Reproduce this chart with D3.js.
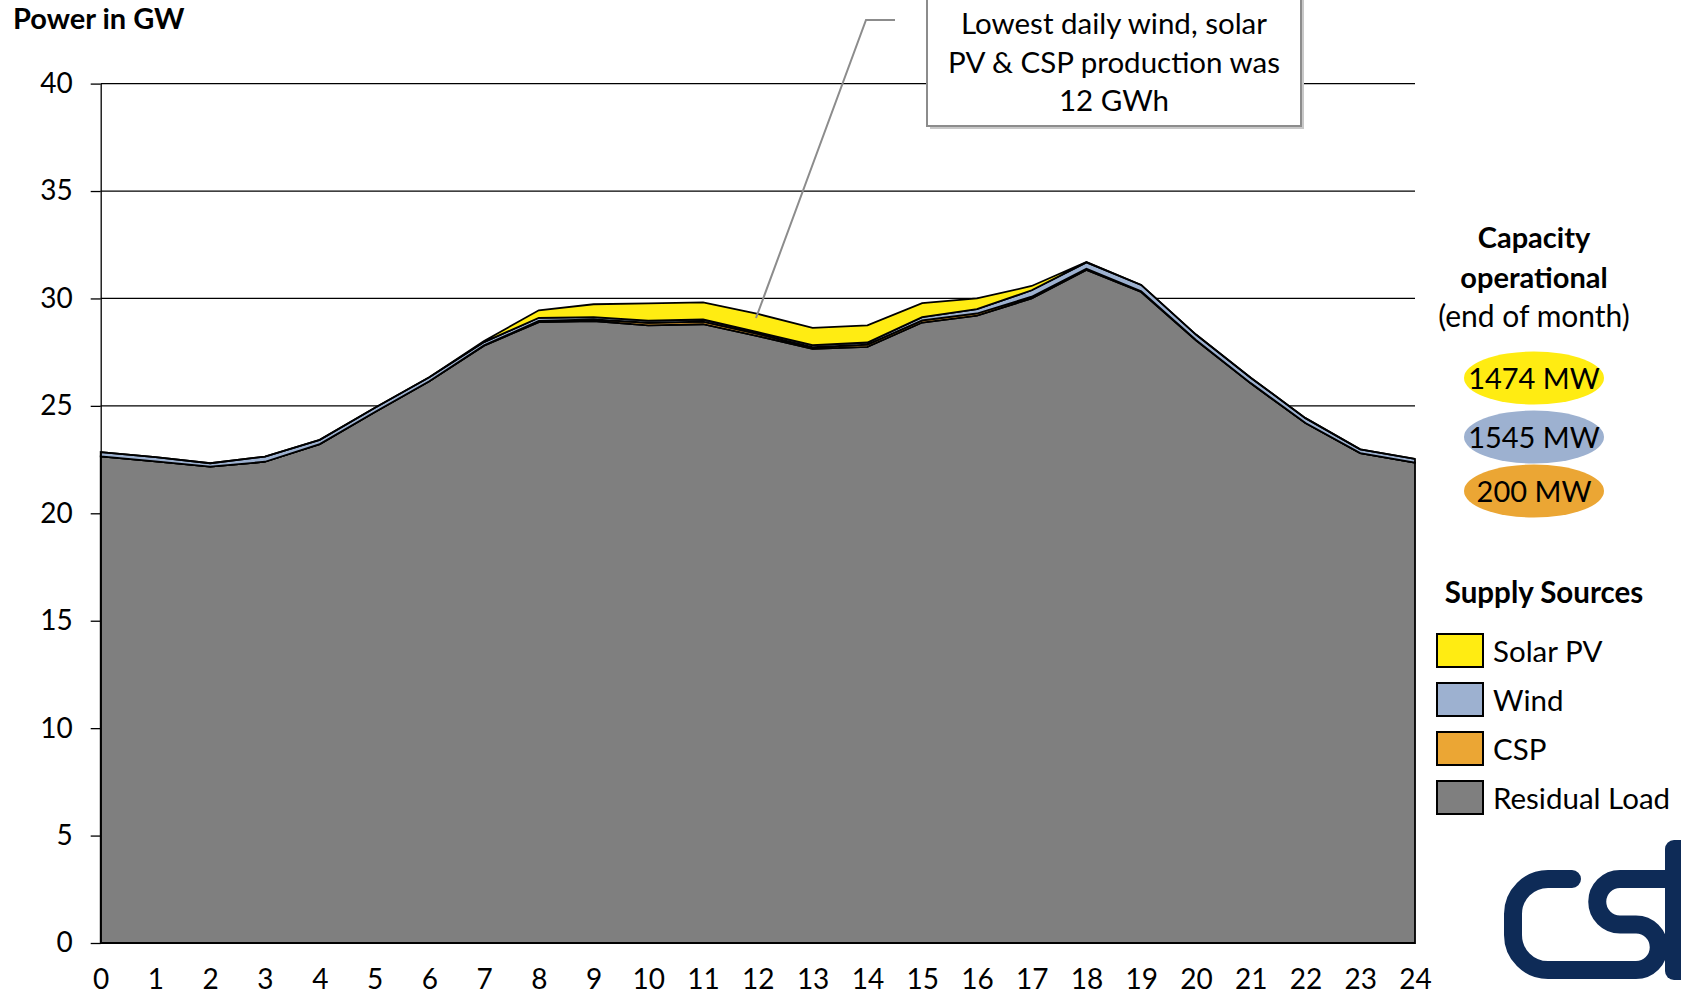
<!DOCTYPE html>
<html>
<head>
<meta charset="utf-8">
<script src="https://cdn.jsdelivr.net/npm/d3@7"></script>
<style>
  body { margin: 0; background: #fff; }
  text { font-family: Lato, 'Open Sans', sans-serif; fill: #000; }
</style>
</head>
<body>
<div id="vis"></div>
<script>
// hours of the day
const hours = d3.range(0, 25);
const yTicks = [0, 5, 10, 15, 20, 25, 30, 35, 40];

// stacked series in GW (bottom to top)
const residualLoad = [22.65, 22.42, 22.17, 22.4, 23.22, 24.7, 26.15, 27.8, 28.9, 28.95, 28.75, 28.8,
  28.25, 27.65, 27.75, 28.88, 29.2, 30.0, 31.33, 30.3, 28.05, 26.05, 24.2, 22.8, 22.36];
const csp = [0, 0, 0, 0, 0, 0, 0, 0.02, 0.05, 0.08, 0.12, 0.12,
  0.1, 0.08, 0.1, 0.1, 0.1, 0.08, 0.05, 0.03, 0.02, 0.01, 0, 0, 0];
const wind = [0.2, 0.19, 0.16, 0.24, 0.2, 0.2, 0.18, 0.15, 0.15, 0.1, 0.1, 0.1,
  0.08, 0.1, 0.1, 0.15, 0.2, 0.3, 0.3, 0.3, 0.25, 0.25, 0.23, 0.18, 0.17];
const solarPV = [0, 0, 0, 0, 0, 0, 0, 0.05, 0.35, 0.6, 0.8, 0.8,
  0.85, 0.8, 0.8, 0.65, 0.5, 0.2, 0.02, 0, 0, 0, 0, 0, 0];

const seriesKeys = ['residual', 'csp', 'wind', 'solar'];
const legendNames = ['Solar PV', 'Wind', 'CSP', 'Residual Load'];
const capacityLabels = ['1474 MW', '1545 MW', '200 MW'];
const colors = {solar: '#ffec12', wind: '#9db1d0', csp: '#eba634', residual: '#7f7f7f'};

const width = 1681;
const height = 994;
const plot = {left: 100.7, right: 1415, top: 83.6, bottom: 943};

const svg = d3.select('#vis')
  .append('svg')
  .attr('width', width)
  .attr('height', height);

const x = d3.scaleLinear().domain([0, 24]).range([plot.left, plot.right]);
const y = d3.scaleLinear().domain([0, 40]).range([plot.bottom, plot.top]);

// gridlines
svg.append('g')
  .selectAll('line')
  .data(yTicks.filter((d) => d > 0))
  .enter()
  .append('line')
  .attr('x1', plot.left)
  .attr('x2', plot.right)
  .attr('y1', (d) => y(d))
  .attr('y2', (d) => y(d))
  .attr('stroke', '#000')
  .attr('stroke-width', 1.3);

// stacked areas
const rows = hours.map((h, i) => ({
  hour: h, residual: residualLoad[i], csp: csp[i], wind: wind[i], solar: solarPV[i],
}));
const stacked = d3.stack().keys(seriesKeys)(rows);
const area = d3.area()
  .x((d) => x(d.data.hour))
  .y0((d) => y(d[0]))
  .y1((d) => y(d[1]));

svg.append('g')
  .selectAll('path')
  .data(stacked)
  .enter()
  .append('path')
  .attr('d', area)
  .attr('fill', (d) => colors[d.key])
  .attr('stroke', '#000')
  .attr('stroke-width', 1.8)
  .attr('stroke-linejoin', 'miter');

// Y axis
const yAxis = svg.append('g')
  .attr('transform', 'translate(' + plot.left + ',0)')
  .call(d3.axisLeft(y).tickValues(yTicks).tickSize(10).tickSizeOuter(0).tickPadding(18));
yAxis.select('.domain').attr('stroke', '#000').attr('stroke-width', 1.3);
yAxis.selectAll('.tick line').attr('stroke', '#000').attr('stroke-width', 1.3);
yAxis.selectAll('text').style('font-size', '28px').attr('fill', '#000');

// X axis, labels only
const xAxis = svg.append('g')
  .attr('transform', 'translate(0,' + plot.bottom + ')')
  .call(d3.axisBottom(x).tickValues(hours).tickSize(0).tickPadding(26));
xAxis.select('.domain').remove();
xAxis.selectAll('text').style('font-size', '28px').attr('fill', '#000');

// axis title
svg.append('text')
  .attr('x', 13)
  .attr('y', 29)
  .style('font-size', '29px')
  .style('font-weight', 'bold')
  .text('Power in GW');

// annotation leader line and box
svg.append('polyline')
  .attr('points', '895,20 866,20 756,318')
  .attr('fill', 'none')
  .attr('stroke', '#8c8c8c')
  .attr('stroke-width', 2);
svg.append('rect')
  .attr('x', 930)
  .attr('y', -10)
  .attr('width', 374)
  .attr('height', 139)
  .attr('fill', '#c8c8c8');
svg.append('rect')
  .attr('x', 927)
  .attr('y', -10)
  .attr('width', 374)
  .attr('height', 136)
  .attr('fill', '#fff')
  .attr('stroke', '#8c8c8c')
  .attr('stroke-width', 2);
svg.append('text')
  .attr('text-anchor', 'middle')
  .style('font-size', '29.5px')
  .selectAll('tspan')
  .data(['Lowest daily wind, solar', 'PV & CSP production was', '12 GWh'])
  .enter()
  .append('tspan')
  .attr('x', 1114)
  .attr('y', (d, i) => 34 + i * 38.5)
  .text((d) => d);

// capacity block
svg.append('text')
  .attr('text-anchor', 'middle')
  .selectAll('tspan')
  .data([['Capacity', 'bold'], ['operational', 'bold'], ['(end of month)', 'normal']])
  .enter()
  .append('tspan')
  .attr('x', 1534)
  .attr('y', (d, i) => 248 + i * 39.5)
  .style('font-weight', (d) => d[1])
  .style('font-size', (d) => d[1] === 'bold' ? '29px' : '30px')
  .text((d) => d[0]);

const capColors = [colors.solar, colors.wind, colors.csp];
const capY = [378, 437, 491];
const caps = svg.append('g')
  .selectAll('g')
  .data(capacityLabels)
  .enter()
  .append('g');
caps.append('ellipse')
  .attr('cx', 1534)
  .attr('cy', (d, i) => capY[i])
  .attr('rx', 70)
  .attr('ry', 26.5)
  .attr('fill', (d, i) => capColors[i]);
caps.append('text')
  .attr('x', 1534)
  .attr('y', (d, i) => capY[i] + 11)
  .attr('text-anchor', 'middle')
  .style('font-size', '29px')
  .text((d) => d);

// supply sources legend
svg.append('text')
  .attr('x', 1544)
  .attr('y', 603)
  .attr('text-anchor', 'middle')
  .style('font-size', '29.5px')
  .style('font-weight', 'bold')
  .text('Supply Sources');

const legendKeys = ['solar', 'wind', 'csp', 'residual'];
const legend = svg.append('g')
  .selectAll('g')
  .data(legendNames)
  .enter()
  .append('g')
  .attr('transform', (d, i) => 'translate(1437,' + (634 + i * 49) + ')');
legend.append('rect')
  .attr('width', 46)
  .attr('height', 33)
  .attr('fill', (d, i) => colors[legendKeys[i]])
  .attr('stroke', '#000')
  .attr('stroke-width', 2);
legend.append('text')
  .attr('x', 56)
  .attr('y', 28)
  .style('font-size', '29.5px')
  .text((d) => d);

// CSI logo (bottom right, cut by the page edge)
const logo = svg.append('g')
  .attr('fill', 'none')
  .attr('stroke', '#0e2b57')
  .attr('stroke-width', 18)
  .attr('stroke-linecap', 'round');
logo.append('path')
  .attr('d', 'M1572,879 H1548 A35,35 0 0 0 1513,914 V935 A35,35 0 0 0 1548,970 H1636 ' +
    'A22.75,22.75 0 0 0 1636,924.5 H1620 A22.75,22.75 0 0 1 1620,879 H1668');
logo.append('rect')
  .attr('x', 1665)
  .attr('y', 840)
  .attr('width', 26)
  .attr('height', 140)
  .attr('rx', 9)
  .attr('fill', '#0e2b57')
  .attr('stroke', 'none');
</script>
</body>
</html>
